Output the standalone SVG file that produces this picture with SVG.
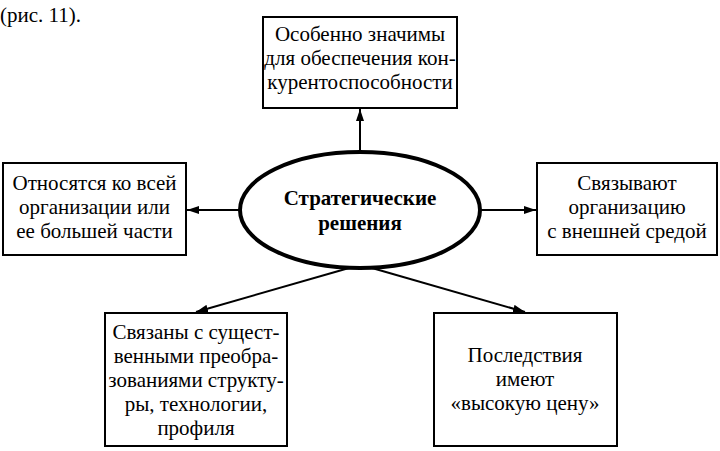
<svg xmlns="http://www.w3.org/2000/svg" width="720" height="451" viewBox="0 0 720 451">
<style>
text{font-family:'Liberation Serif','DejaVu Serif',serif;font-size:21px;fill:#000;text-anchor:middle}
.box{fill:#fff;stroke:#000;stroke-width:2}
.conn{stroke:#000;stroke-width:2;fill:none;marker-end:url(#arr)}
.b{font-weight:bold}
</style>
<defs>
<marker id="arr" viewBox="0 0 12 8" refX="12" refY="4" markerWidth="12" markerHeight="8" markerUnits="userSpaceOnUse" orient="auto">
<path d="M0,0 L12,4 L0,8 z" fill="#000"/>
</marker>
</defs>
<rect width="720" height="451" fill="#fff"/>
<text x="0" y="22" style="text-anchor:start">(рис. 11).</text>
<g id="connectors">
<line class="conn" x1="360" y1="152" x2="360" y2="109"/>
<line class="conn" x1="240" y1="210" x2="187" y2="210"/>
<line class="conn" x1="480" y1="210" x2="536" y2="210"/>
<line class="conn" x1="349" y1="268" x2="196" y2="312"/>
<line class="conn" x1="372" y1="268" x2="525" y2="312"/>
</g>
<g id="center">
<ellipse cx="360" cy="210" rx="120" ry="58" fill="#fff" stroke="#000" stroke-width="4"/>
<text class="b" x="360" y="205">Стратегические</text>
<text class="b" x="360" y="230">решения</text>
</g>
<g id="top">
<rect class="box" x="263" y="17" width="194" height="91"/>
<text x="360" y="41">Особенно значимы</text>
<text x="360" y="65">для обеспечения кон-</text>
<text x="360" y="89">курентоспособности</text>
</g>
<g id="left">
<rect class="box" x="3" y="163" width="183" height="92"/>
<text x="94.5" y="190">Относятся ко всей</text>
<text x="94.5" y="214">организации или</text>
<text x="94.5" y="238">ее большей части</text>
</g>
<g id="right">
<rect class="box" x="537" y="163" width="180" height="92"/>
<text x="627" y="190">Связывают</text>
<text x="627" y="214">организацию</text>
<text x="627" y="238">с внешней средой</text>
</g>
<g id="bottom-left">
<rect class="box" x="105" y="313" width="182" height="133"/>
<text x="196" y="339">Связаны с сущест-</text>
<text x="196" y="363">венными преобра-</text>
<text x="196" y="387">зованиями структу-</text>
<text x="196" y="411">ры, технологии,</text>
<text x="196" y="435">профиля</text>
</g>
<g id="bottom-right">
<rect class="box" x="434" y="313" width="183" height="133"/>
<text x="525" y="362">Последствия</text>
<text x="525" y="386">имеют</text>
<text x="525" y="410">«высокую цену»</text>
</g>
</svg>
